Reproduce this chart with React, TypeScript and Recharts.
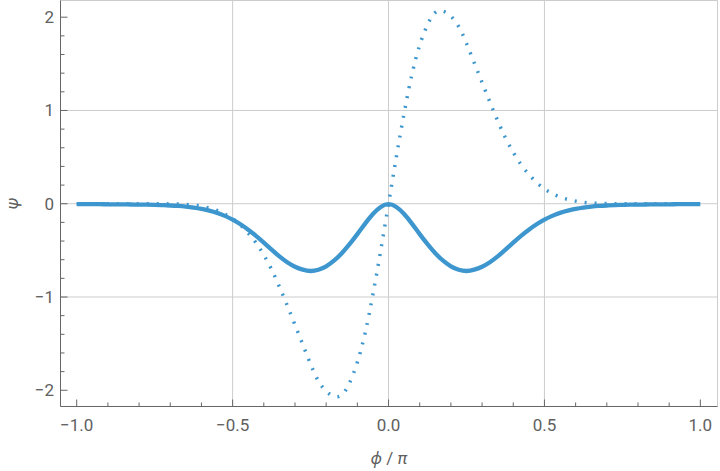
import React from 'react';
import { LineChart, Line, XAxis, YAxis, CartesianGrid } from 'recharts';

// phi / pi sample positions
const xValues = [
  -1, -0.975, -0.95, -0.925, -0.9, -0.875, -0.85, -0.825, -0.8, -0.775,
  -0.75, -0.725, -0.7, -0.675, -0.65, -0.625, -0.6, -0.575, -0.55, -0.525,
  -0.5, -0.475, -0.45, -0.425, -0.4, -0.375, -0.35, -0.325, -0.3, -0.275,
  -0.25, -0.225, -0.2, -0.175, -0.15, -0.125, -0.1, -0.075, -0.05, -0.025,
  0,
  0.025, 0.05, 0.075, 0.1, 0.125, 0.15, 0.175, 0.2, 0.225, 0.25,
  0.275, 0.3, 0.325, 0.35, 0.375, 0.4, 0.425, 0.45, 0.475, 0.5,
  0.525, 0.55, 0.575, 0.6, 0.625, 0.65, 0.675, 0.7, 0.725, 0.75,
  0.775, 0.8, 0.825, 0.85, 0.875, 0.9, 0.925, 0.95, 0.975, 1,
];

// solid curve
const solidValues = [
  -0.004, -0.004, -0.005, -0.005, -0.006, -0.006, -0.007, -0.008, -0.009, -0.01,
  -0.012, -0.015, -0.019, -0.024, -0.031, -0.041, -0.055, -0.074, -0.098, -0.13,
  -0.17, -0.22, -0.278, -0.344, -0.417, -0.493, -0.565, -0.627, -0.675, -0.707,
  -0.721, -0.708, -0.671, -0.611, -0.531, -0.434, -0.326, -0.213, -0.11, -0.035,
  -0.005,
  -0.035, -0.11, -0.213, -0.326, -0.434, -0.531, -0.611, -0.671, -0.708, -0.721,
  -0.707, -0.675, -0.627, -0.565, -0.493, -0.417, -0.344, -0.278, -0.22, -0.17,
  -0.13, -0.098, -0.074, -0.055, -0.041, -0.031, -0.024, -0.019, -0.015, -0.012,
  -0.01, -0.009, -0.008, -0.007, -0.006, -0.006, -0.005, -0.005, -0.004, -0.004,
];

// dotted curve
const dottedValues = [
  0, 0, 0, 0, 0, 0, 0, 0, 0, 0,
  0, -0.001, -0.002, -0.004, -0.008, -0.015, -0.028, -0.046, -0.072, -0.11,
  -0.16, -0.228, -0.315, -0.42, -0.55, -0.705, -0.89, -1.09, -1.3, -1.51,
  -1.72, -1.9, -2.01, -2.065, -2.05, -1.92, -1.7, -1.385, -0.97, -0.5,
  0,
  0.5, 0.97, 1.385, 1.7, 1.92, 2.05, 2.065, 2.01, 1.9, 1.72,
  1.51, 1.3, 1.09, 0.89, 0.705, 0.55, 0.42, 0.315, 0.228, 0.16,
  0.11, 0.072, 0.046, 0.028, 0.015, 0.008, 0.004, 0.002, 0.001, 0,
  0, 0, 0, 0, 0, 0, 0, 0, 0, 0,
];

const xTicks = [-1, -0.9, -0.8, -0.7, -0.6, -0.5, -0.4, -0.3, -0.2, -0.1, 0, 0.1, 0.2, 0.3, 0.4, 0.5, 0.6, 0.7, 0.8, 0.9, 1];
const xMajorTicks = [-1, -0.5, 0, 0.5, 1];
const xTickLabels = ['\u22121.0', '\u22120.5', '0.0', '0.5', '1.0'];
const yTicks = [-2, -1.8, -1.6, -1.4, -1.2, -1, -0.8, -0.6, -0.4, -0.2, 0, 0.2, 0.4, 0.6, 0.8, 1, 1.2, 1.4, 1.6, 1.8, 2];
const yMajorTicks = [-2, -1, 0, 1, 2];
const yTickLabels = ['\u22122', '\u22121', '0', '1', '2'];
const xGrid = [-0.5, 0, 0.5];
const yGrid = [-1, 0, 1];
const xDomain = [-1.052, 1.055];
const yDomain = [-2.174, 2.179];

const data = xValues.map((x, i) => ({ x, solid: solidValues[i], dotted: dottedValues[i] }));

// layout of the plot frame (pixels)
const PLOT_LEFT = 60.5;
const PLOT_RIGHT = 717.5;
const PLOT_TOP = 0.5;
const PLOT_BOTTOM = 406.5;

const FRAME = '#666666';
const TEXT = '#606060';
const LINE = '#3d96ce';
const FONT = 'Roboto, "Noto Sans", sans-serif';
const FS = 17;
const MAJOR = 7;
const MINOR = 4;

const majorIndex = (v: number, arr: number[]) => arr.findIndex((a) => Math.abs(a - v) < 1e-9);

const BottomTick = (props: any) => {
  const { payload } = props;
  const x = payload.coordinate;
  const y = PLOT_BOTTOM;
  const i = majorIndex(payload.value, xMajorTicks);
  const len = i >= 0 ? MAJOR : MINOR;
  return (
    <g>
      <line x1={x} x2={x} y1={y} y2={y - len} stroke={FRAME} strokeWidth={1} />
      {i >= 0 && (
        <text x={x} y={y + 12} dy="0.71em" textAnchor="middle" fill={TEXT} fontSize={FS} fontFamily={FONT}>
          {xTickLabels[i]}
        </text>
      )}
    </g>
  );
};

const TopTick = (props: any) => {
  const { payload } = props;
  const x = payload.coordinate;
  const y = PLOT_TOP;
  const i = majorIndex(payload.value, xMajorTicks);
  const len = i >= 0 ? MAJOR : MINOR;
  return <line x1={x} x2={x} y1={y} y2={y + len} stroke={FRAME} strokeWidth={1} />;
};

const LeftTick = (props: any) => {
  const { payload } = props;
  const y = payload.coordinate;
  const x = PLOT_LEFT;
  const i = majorIndex(payload.value, yMajorTicks);
  const len = i >= 0 ? MAJOR : MINOR;
  return (
    <g>
      <line x1={x} x2={x + len} y1={y} y2={y} stroke={FRAME} strokeWidth={1} />
      {i >= 0 && (
        <text x={x - 6.5} y={y} dy="0.355em" textAnchor="end" fill={TEXT} fontSize={FS} fontFamily={FONT}>
          {yTickLabels[i]}
        </text>
      )}
    </g>
  );
};

const RightTick = (props: any) => {
  const { payload } = props;
  const y = payload.coordinate;
  const x = PLOT_RIGHT;
  const i = majorIndex(payload.value, yMajorTicks);
  const len = i >= 0 ? MAJOR : MINOR;
  return <line x1={x} x2={x - len} y1={y} y2={y} stroke={FRAME} strokeWidth={1} />;
};

const XTitle = () => {
  const cx = (PLOT_LEFT + PLOT_RIGHT) / 2;
  return (
    <text x={cx} y={PLOT_BOTTOM + 57} textAnchor="middle" fill={TEXT} fontSize={FS} fontFamily={FONT}>
      <tspan fontStyle="italic">{'\u03D5'}</tspan>
      <tspan>{' / '}</tspan>
      <tspan fontStyle="italic">{'\u03C0'}</tspan>
    </text>
  );
};

const YTitle = () => {
  const cx = 18;
  const cy = (PLOT_TOP + PLOT_BOTTOM) / 2;
  return (
    <g transform={`rotate(-90 ${cx} ${cy})`}>
      <text x={cx} y={cy} textAnchor="middle" fill={TEXT} fontSize={FS} fontFamily={FONT} fontStyle="italic">
        {'\u03C8'}
      </text>
    </g>
  );
};

export default function App() {
  return (
    <div style={{ position: 'absolute', left: 0, top: 0, background: '#fff' }}>
      <LineChart width={720} height={471} data={data} margin={{ top: PLOT_TOP, right: 720 - PLOT_RIGHT, bottom: 0, left: 0 }}>
        <XAxis
          xAxisId="bottom"
          dataKey="x"
          type="number"
          orientation="bottom"
          domain={xDomain}
          ticks={xTicks}
          interval={0}
          height={471 - PLOT_BOTTOM}
          tickSize={0}
          tickMargin={0}
          tickLine={false}
          axisLine={{ stroke: FRAME, strokeWidth: 1 }}
          tick={BottomTick}
          allowDataOverflow
          label={<XTitle />}
        />
        <XAxis
          xAxisId="top"
          dataKey="x"
          type="number"
          orientation="top"
          domain={xDomain}
          ticks={xTicks}
          interval={0}
          height={0}
          tickSize={0}
          tickMargin={0}
          tickLine={false}
          axisLine={{ stroke: FRAME, strokeWidth: 1 }}
          tick={TopTick}
          allowDataOverflow
        />
        <YAxis
          yAxisId="left"
          type="number"
          orientation="left"
          domain={yDomain}
          ticks={yTicks}
          interval={0}
          width={PLOT_LEFT}
          tickSize={0}
          tickMargin={0}
          tickLine={false}
          axisLine={{ stroke: FRAME, strokeWidth: 1 }}
          tick={LeftTick}
          allowDataOverflow
          label={<YTitle />}
        />
        <YAxis
          yAxisId="right"
          type="number"
          orientation="right"
          domain={yDomain}
          ticks={yTicks}
          interval={0}
          width={0}
          tickSize={0}
          tickMargin={0}
          tickLine={false}
          axisLine={{ stroke: FRAME, strokeWidth: 1 }}
          tick={RightTick}
          allowDataOverflow
        />
        <XAxis xAxisId="grid" dataKey="x" type="number" orientation="top" domain={xDomain} ticks={xGrid} height={0} hide allowDataOverflow />
        <YAxis yAxisId="grid" type="number" orientation="right" domain={yDomain} ticks={yGrid} width={0} hide allowDataOverflow />
        <CartesianGrid xAxisId="grid" yAxisId="grid" stroke="#cccccc" strokeWidth={1} />
        <Line
          xAxisId="bottom"
          yAxisId="left"
          type="natural"
          dataKey="solid"
          stroke={LINE}
          strokeWidth={4.3}
          dot={false}
          activeDot={false}
          isAnimationActive={false}
        />
        <Line
          xAxisId="bottom"
          yAxisId="left"
          type="natural"
          dataKey="dotted"
          stroke={LINE}
          strokeWidth={3.5}
          strokeDasharray="2 8"
          dot={false}
          activeDot={false}
          isAnimationActive={false}
        />
      </LineChart>
    </div>
  );
}
